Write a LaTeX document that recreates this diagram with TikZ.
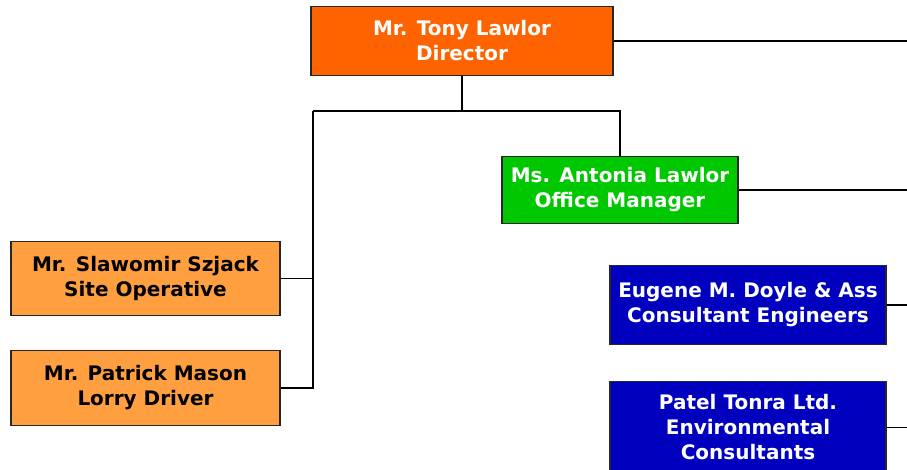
\documentclass[tikz,border=0pt]{standalone}
\usepackage{fontspec}
\setmainfont{DejaVu Sans}
\definecolor{dirorange}{HTML}{FF6300}
\definecolor{staffgreen}{HTML}{00C800}
\definecolor{siteorange}{HTML}{FF9F40}
\definecolor{consblue}{HTML}{0000BE}
\tikzset{
  box/.style={draw=black!85, line width=1.6pt, align=center, inner sep=0pt,
    font=\bfseries\fontsize{20}{25}\selectfont},
  link/.style={line width=1.8pt},
}
\begin{document}
\begin{tikzpicture}[x=1pt,y=-1pt]
            \clip (0,0) rectangle (907,469);
            \node[box,fill=dirorange,text=white,minimum width=302pt,minimum height=69pt] (dir) at (462,41) {Mr. Tony Lawlor\\Director};
            \node[box,fill=staffgreen,text=white,minimum width=236pt,minimum height=67pt] (ant) at (620,190) {Ms. Antonia Lawlor\\Office Manager};
            \node[box,fill=siteorange,text=black,minimum width=269pt,minimum height=74pt] (sla) at (145.5,278.5) {Mr. Slawomir Szjack\\Site Operative};
            \node[box,fill=siteorange,text=black,minimum width=269pt,minimum height=75pt] (pat) at (145.5,388) {Mr. Patrick Mason\\Lorry Driver};
            \node[box,fill=consblue,text=white,minimum width=276pt,minimum height=79pt] (eug) at (748,305) {Eugene M. Doyle \& Ass\\Consultant Engineers};
            \node[box,fill=consblue,text=white,minimum width=276pt,minimum height=92pt] (ptl) at (748,427.5) {Patel Tonra Ltd.\\Environmental\\Consultants};

            % bus below the director
            \coordinate (busL) at (313,111);
            \coordinate (edge) at (907,0);
            \draw[link] (dir.south) -- (dir.south |- busL);
            \draw[link] (busL) -| (ant.north);
            \draw[link] (busL) |- (pat.east);
            \draw[link] (sla.east) -- (sla.east -| busL);

            % lines running off to the right
            \draw[link] (dir.east) -- (dir.east -| edge);
            \draw[link] (ant.east) -- (ant.east -| edge);
            \draw[link] (eug.east) -- (eug.east -| edge);
            \draw[link] (ptl.east) -- (ptl.east -| edge);
\end{tikzpicture}
\end{document}
